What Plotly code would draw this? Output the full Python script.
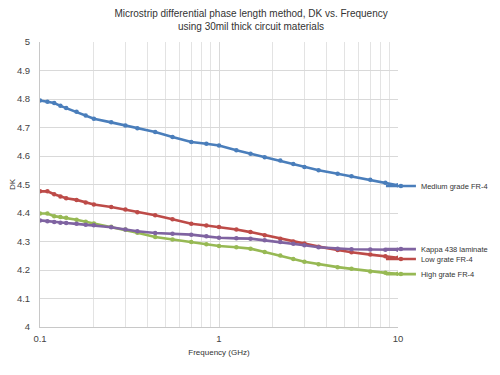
import plotly.graph_objects as go

freq_ghz = [0.10, 0.11, 0.12, 0.13, 0.14, 0.16, 0.18, 0.20, 0.25, 0.30, 0.35, 0.44, 0.55,
            0.70, 0.85, 1.0, 1.25, 1.5, 1.8, 2.2, 2.6, 3.0, 3.6, 4.6, 5.5, 7.0, 8.5, 10.0]

dk_medium = [4.795, 4.790, 4.786, 4.776, 4.768, 4.755, 4.742, 4.731, 4.718, 4.707, 4.697, 4.684, 4.667,
             4.649, 4.643, 4.637, 4.620, 4.608, 4.596, 4.584, 4.572, 4.561, 4.550, 4.538, 4.529, 4.517, 4.506, 4.497]
dk_low = [4.476, 4.476, 4.466, 4.458, 4.452, 4.446, 4.437, 4.430, 4.421, 4.412, 4.403, 4.392, 4.378,
          4.362, 4.356, 4.351, 4.342, 4.333, 4.322, 4.310, 4.300, 4.293, 4.282, 4.270, 4.262, 4.254, 4.248, 4.243]
dk_kappa = [4.374, 4.371, 4.368, 4.366, 4.365, 4.362, 4.359, 4.357, 4.350, 4.342, 4.336, 4.330, 4.327,
            4.324, 4.318, 4.313, 4.311, 4.310, 4.304, 4.298, 4.292, 4.287, 4.280, 4.275, 4.273, 4.272, 4.271, 4.271]
dk_high = [4.398, 4.398, 4.389, 4.386, 4.383, 4.376, 4.369, 4.363, 4.352, 4.342, 4.331, 4.316, 4.307,
           4.298, 4.290, 4.284, 4.280, 4.275, 4.263, 4.251, 4.239, 4.229, 4.220, 4.210, 4.204, 4.195, 4.190, 4.187]

series_names = ["Medium grade FR-4", "Kappa 438 laminate", "Low grate FR-4", "High grate FR-4"]
series_values = [dk_medium, dk_kappa, dk_low, dk_high]
series_colors = ["#4a7ebb", "#7f63a1", "#bd4b48", "#97b954"]
legend_ids = ["legend", "legend2", "legend3", "legend4"]
legend_y = [0.515, 0.343, 0.316, 0.275]

x_major = [0.1, 1, 10]
x_major_text = ["0.1", "1", "10"]
x_minor = [0.2, 0.3, 0.4, 0.5, 0.6, 0.7, 0.8, 0.9, 2, 3, 4, 5, 6, 7, 8, 9]
y_ticks = [4.0, 4.1, 4.2, 4.3, 4.4, 4.5, 4.6, 4.7, 4.8, 4.9, 5.0]
y_tick_text = ["4", "4.1", "4.2", "4.3", "4.4", "4.5", "4.6", "4.7", "4.8", "4.9", "5"]

fig = go.Figure()
draw_order = [0, 2, 3, 1]
for i in draw_order:
    fig.add_trace(go.Scatter(
        x=freq_ghz, y=series_values[i], name=series_names[i],
        mode="lines+markers",
        line=dict(color=series_colors[i], width=2.6),
        marker=dict(color=series_colors[i], size=4.5),
        legend=legend_ids[i], showlegend=True,
    ))

font_family = "Liberation Sans, Arial, sans-serif"
legend_common = dict(
    x=0.758, xref="container", xanchor="left",
    yref="container", yanchor="middle",
    font=dict(family=font_family, size=7.5, color="#333333"),
    bgcolor="rgba(0,0,0,0)", borderwidth=0, itemwidth=30,
    visible=True,
)
layout_legends = {}
for lid, ly in zip(legend_ids, legend_y):
    layout_legends[lid] = dict(legend_common, y=ly)

# the page body has an 8px margin, so the figure is sized to the visible window area
fig.update_layout(
    width=492, height=367,
    showlegend=True,
    margin=dict(l=31.5, r=102.3, t=33.5, b=48.3, autoexpand=False),
    paper_bgcolor="white", plot_bgcolor="white",
    title=dict(
        text="Microstrip differential phase length method, DK vs. Frequency<br>using 30mil thick circuit materials",
        x=0.494, xref="container", xanchor="center",
        y=0.975, yref="container", yanchor="top",
        font=dict(family=font_family, size=10, color="#333333"),
    ),
    xaxis=dict(
        type="log", range=[-1, 1], automargin=False,
        tickvals=x_major, ticktext=x_major_text,
        ticks="outside", ticklen=3, tickcolor="rgba(0,0,0,0)",
        tickfont=dict(family=font_family, size=9.5, color="#444444"),
        showgrid=True, gridcolor="#d9d9d9", gridwidth=1,
        minor=dict(tickvals=x_minor, showgrid=True, gridcolor="#e3e3e3", gridwidth=1, ticks=""),
        showline=True, linecolor="#c8c8c8", linewidth=1, mirror=False,
        zeroline=False,
        title=dict(text="Frequency (GHz)", standoff=5,
                   font=dict(family=font_family, size=8, color="#333333")),
    ),
    yaxis=dict(
        range=[4, 5], automargin=False,
        tickvals=y_ticks, ticktext=y_tick_text,
        ticks="outside", ticklen=7, tickcolor="rgba(0,0,0,0)",
        tickfont=dict(family=font_family, size=9.5, color="#444444"),
        showgrid=True, gridcolor="#d9d9d9", gridwidth=1,
        showline=True, linecolor="#c8c8c8", linewidth=1,
        zeroline=False,
        title=dict(text="DK", standoff=3,
                   font=dict(family=font_family, size=8, color="#333333")),
    ),
    **layout_legends,
)

fig.write_html("out.html")
